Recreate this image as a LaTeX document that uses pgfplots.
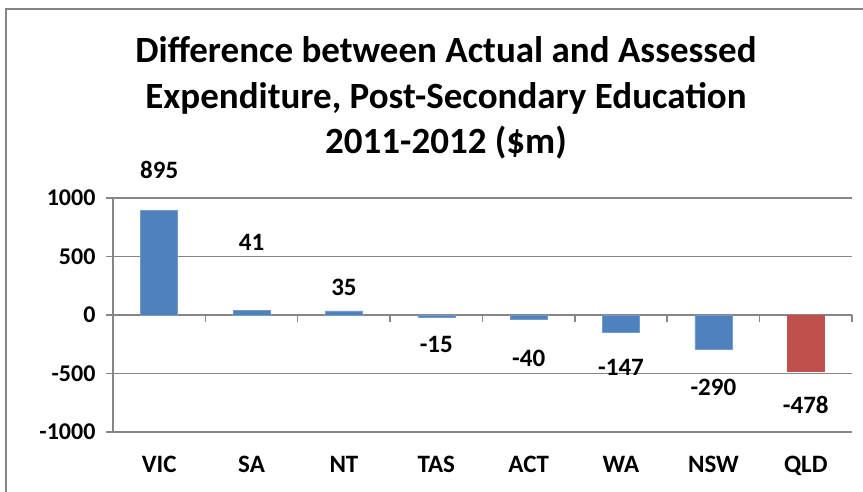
\documentclass[border=0pt]{standalone}
\usepackage{pgfplots}
\pgfplotsset{compat=1.18}
\usepackage{fontspec}
\setmainfont{Carlito}
\definecolor{barblue}{HTML}{4F81BD}
\definecolor{barred}{HTML}{C0504D}
\definecolor{gridgray}{HTML}{868686}
\begin{document}
\begin{tikzpicture}[x=1pt,y=1pt]
\useasboundingbox (0,0) rectangle (863,491);
\draw[gridgray, line width=1.5pt] (6,-5) -- (6,482) -- (870,482);
\node[font=\bfseries\fontsize{37}{45.5}\selectfont, align=center, anchor=center] at (446,393) {Difference between Actual and Assessed\\Expenditure, Post-Secondary Education\\2011-2012 (\$m)};
\begin{axis}[
  at={(113pt,59pt)}, anchor=south west,
  scale only axis, width=739pt, height=234pt,
  xmin=-0.5, xmax=7.5, ymin=-1000, ymax=1000,
  axis lines*=left,
  axis line style={gridgray, line width=1.5pt},
  ytick={-1000,-500,0,500,1000},
  ymajorgrids, grid style={gridgray, line width=1.5pt},
  major y tick style={gridgray, line width=1.5pt},
  tick align=outside, major tick length=7pt,
  yticklabel style={font=\bfseries\fontsize{24}{24}\selectfont, xshift=-7pt},
  /pgf/number format/assume math mode=true,
  /pgf/number format/1000 sep={},
  xtick={0,...,7},
  xticklabels={VIC,SA,NT,TAS,ACT,WA,NSW,QLD},
  major x tick style={draw=none},
  xticklabel style={font=\bfseries\fontsize{25}{25}\selectfont, yshift=-14pt},
  ybar, bar width=37pt,
  clip=false,
]
\addplot[ybar, bar shift=0pt, fill=barblue, draw=barblue!80!white] coordinates {(0,895) (1,41) (2,35) (3,-15) (4,-40) (5,-147) (6,-290)};
\addplot[ybar, bar shift=0pt, fill=barred, draw=barred] coordinates {(7,-478)};
\pgfplotsinvokeforeach{0.5,1.5,...,7.5}{\draw[gridgray, line width=1.5pt] (axis cs:#1,0) -- ++(0pt,-7pt);}
\begin{scope}[every node/.style={font=\bfseries\fontsize{25}{25}\selectfont}]
\node at (axis cs:0,1239) {895};
\node at (axis cs:1,624) {41};
\node at (axis cs:2,239) {35};
\node at (axis cs:3,-248) {-15};
\node at (axis cs:4,-368) {-40};
\node at (axis cs:5,-444) {-147};
\node at (axis cs:6,-615) {-290};
\node at (axis cs:7,-769) {-478};
\end{scope}
\end{axis}
\end{tikzpicture}
\end{document}
